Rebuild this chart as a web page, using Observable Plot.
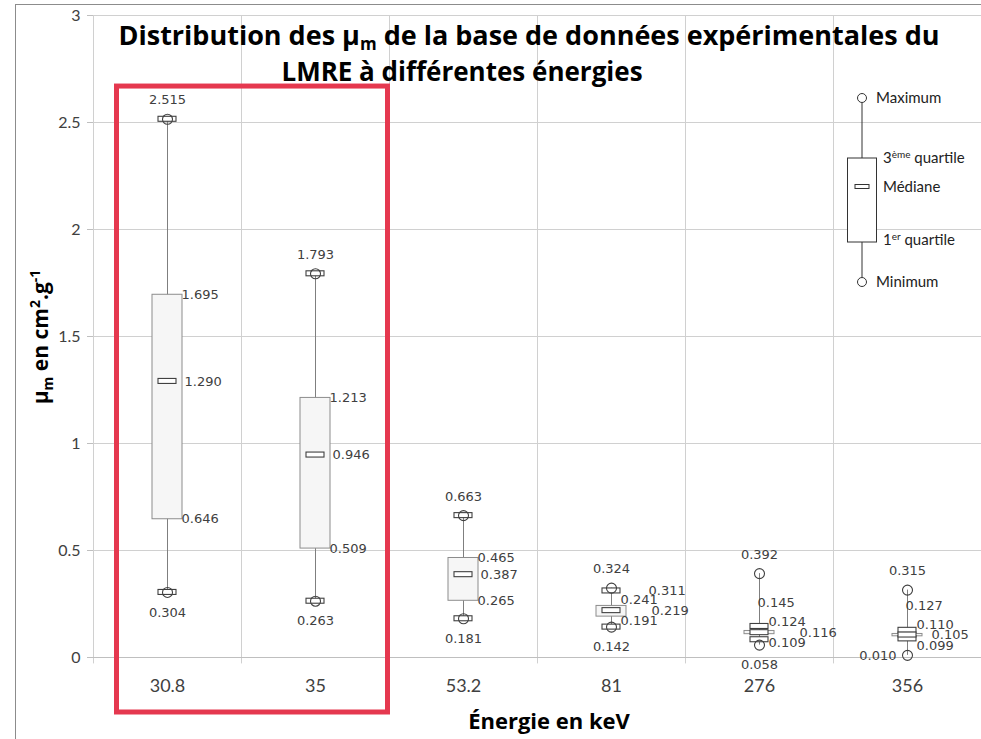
<!DOCTYPE html>
<html lang="fr">
<head>
<meta charset="utf-8">
<script src="https://cdn.jsdelivr.net/npm/d3@7"></script>
<script src="https://cdn.jsdelivr.net/npm/@observablehq/plot@0.6"></script>
<style>
  html, body { margin: 0; padding: 0; background: #fff; overflow: hidden; }
  #wrap { position: relative; width: 981px; height: 739px; overflow: hidden; }
  #frame { position: absolute; left: 15px; top: 4px; width: 1000px; height: 800px;
           border: 1px solid #8c8c8c; pointer-events: none; }
  #wrap svg { position: absolute; left: 0; top: 0; }
</style>
</head>
<body>
<div id="wrap"><div id="frame"></div></div>
<script>
// Mass attenuation coefficients (cm².g⁻¹) measured at each energy (keV)
const energies      = ["30.8", "35", "53.2", "81", "276", "356"];
const minimum       = [0.304, 0.263, 0.181, 0.142, 0.058, 0.010];
const lowerWhisker  = [0.304, 0.263, 0.181, 0.142, 0.083, 0.087];
const firstQuartile = [0.646, 0.509, 0.265, 0.191, 0.109, 0.099];
const medianValue   = [1.290, 0.946, 0.387, 0.219, 0.116, 0.105];
const thirdQuartile = [1.695, 1.213, 0.465, 0.241, 0.124, 0.110];
const upperWhisker  = [2.515, 1.793, 0.663, 0.311, 0.145, 0.127];
const maximum       = [2.515, 1.793, 0.663, 0.324, 0.392, 0.315];
const yTicks        = [0, 0.5, 1, 1.5, 2, 2.5, 3];
const highlighted   = ["30.8", "35"];

const rows = energies.map((e, i) => ({
  energie: e, min: minimum[i], lw: lowerWhisker[i], q1: firstQuartile[i],
  med: medianValue[i], q3: thirdQuartile[i], uw: upperWhisker[i], max: maximum[i]
}));

// Layout
const W = 981, H = 739, mL = 93, mR = 0, mT = 15, mB = 82;
const band = (W - mL - mR) / energies.length;
const boxW = 30, capW = 18, capH = 5;
const grid = "#d0d0d0", ink = "#404040";
const fmt = d3.format(".3f");
const bold = "'Open Sans', sans-serif";

// Value labels: max above, min below, quartiles/median to the right (spread when crowded)
const yS = Plot.scale({y: {domain: [0, 3], range: [H - mB, mT]}});
const labels = [];
rows.forEach((r, i) => {
  const cx = mL + (i + 0.5) * band;
  labels.push({energie: r.energie, y: r.max, text: fmt(r.max), anchor: "middle", dx: 0, dy: -19});
  const below = yS.apply(r.min) + 20;
  if (below > H - mB + 12) labels.push({energie: r.energie, y: r.min, text: fmt(r.min), anchor: "end", dx: -11, dy: 0});
  else labels.push({energie: r.energie, y: r.min, text: fmt(r.min), anchor: "middle", dx: 0, dy: 20});
  const crowded = yS.apply(r.q1) - yS.apply(r.q3) < 25;
  const pMed = yS.apply(r.med);
  const pQ3 = Math.min(yS.apply(r.q3), pMed - 10.5);
  const pQ1 = Math.max(yS.apply(r.q1), pMed + 10.5);
  const medDx = crowded ? Math.min(40, Math.round(W - 50 - cx)) : 17;
  labels.push({energie: r.energie, y: yS.invert(pQ3), text: fmt(r.q3), anchor: "start", dx: crowded ? 9 : 14, dy: 0});
  labels.push({energie: r.energie, y: r.med, text: fmt(r.med), anchor: "start", dx: medDx, dy: 0});
  labels.push({energie: r.energie, y: yS.invert(pQ1), text: fmt(r.q1), anchor: "start", dx: crowded ? 9 : 14, dy: 0});
  if (r.uw !== r.max) {
    const pUw = yS.apply(r.uw);
    if (pUw < yS.apply(r.q3) - 12) labels.push({energie: r.energie, y: r.uw, text: fmt(r.uw), anchor: "start", dx: 37, dy: 0});
    else labels.push({energie: r.energie, y: yS.invert(pQ3 - 19), text: fmt(r.uw), anchor: "start", dx: -2, dy: 0});
  }
});
const labelMarks = d3.groups(labels, d => `${d.anchor}|${d.dx}|${d.dy}`).map(([, g]) =>
  Plot.text(g, {x: "energie", y: "y", text: "text", textAnchor: g[0].anchor, dx: g[0].dx, dy: g[0].dy,
    fontFamily: "DejaVu Sans", fontSize: 13, fill: ink})
);

const capMark = key => Plot.barY(rows, {
  x: "energie", y1: key, y2: key,
  insetLeft: (band - capW) / 2, insetRight: (band - capW) / 2,
  insetTop: -capH / 2, insetBottom: -capH / 2,
  fill: "white", stroke: ink, strokeWidth: 1.1
});

const chart = Plot.plot({
  width: W, height: H,
  marginLeft: mL, marginRight: mR, marginTop: mT, marginBottom: mB,
  style: {fontFamily: "Lato, sans-serif", background: "transparent", overflow: "visible"},
  x: {domain: energies, padding: 0},
  y: {domain: [0, 3]},
  marks: [
    Plot.ruleY(yTicks.filter(t => t > 0), {stroke: grid}),
    Plot.ruleX(energies, {x: d => d, dx: -band / 2, y1: -0.03, y2: 3, stroke: grid}),
    Plot.ruleY([0], {stroke: "#bfbfbf"}),
    Plot.axisY(yTicks, {tickSize: 6, tickPadding: 7, stroke: "#bfbfbf", fill: ink,
      fontSize: 16, tickFormat: d => String(d), label: null}),
    Plot.axisX({tickSize: 0, tickPadding: 22, fill: ink, fontSize: 18, label: null}),
    // whiskers span the full range
    Plot.ruleX(rows, {x: "energie", y1: "min", y2: "max", stroke: "#7f7f7f"}),
    // interquartile box
    Plot.barY(rows, {x: "energie", y1: "q1", y2: "q3",
      insetLeft: (band - boxW) / 2, insetRight: (band - boxW) / 2,
      fill: "#f6f6f6", stroke: "#8c8c8c"}),
    capMark("uw"),
    capMark("lw"),
    capMark("med"),
    Plot.dot(rows, {x: "energie", y: "max", r: 5, stroke: ink, fill: "none", strokeWidth: 1.1}),
    Plot.dot(rows, {x: "energie", y: "min", r: 5, stroke: ink, fill: "none", strokeWidth: 1.1}),
    ...labelMarks
  ]
});

document.getElementById("wrap").appendChild(chart);

// Annotations drawn on top of the chart
const svg = d3.select(chart);
const ys = chart.scale("y");

// highlight around the low-energy group
{
  const start = mL + energies.indexOf(highlighted[0]) * band;
  const end = mL + (energies.indexOf(highlighted[highlighted.length - 1]) + 1) * band;
  svg.append("rect")
    .attr("x", start + 23.5).attr("y", ys.apply(2.668))
    .attr("width", end - start - 25).attr("height", ys.apply(-0.257) - ys.apply(2.668))
    .attr("fill", "none").attr("stroke", "#e5384f").attr("stroke-width", 5);
}

// Title
const title = svg.append("g").attr("font-family", bold).attr("font-weight", 700)
  .attr("font-size", 27).attr("fill", "#000").attr("text-anchor", "middle");
const t1 = title.append("text").attr("x", 529).attr("y", 45);
t1.append("tspan").text("Distribution des μ");
t1.append("tspan").attr("font-size", 17).attr("dy", 5).text("m");
t1.append("tspan").attr("dy", -5).text(" de la base de données expérimentales du");
title.append("text").attr("x", 462).attr("y", 81).attr("font-size", 26).text("LMRE à différentes énergies");

// Axis titles
const yl = svg.append("text").attr("transform", "translate(48,337) rotate(-90)")
  .attr("text-anchor", "middle").attr("font-family", bold)
  .attr("font-weight", 700).attr("font-size", 21).attr("fill", "#000");
yl.append("tspan").text("μ");
yl.append("tspan").attr("font-size", 14).attr("dy", 5).text("m");
yl.append("tspan").attr("dy", -5).text(" en cm");
yl.append("tspan").attr("font-size", 14).attr("dy", -8).text("2");
yl.append("tspan").attr("dy", 8).text(".g");
yl.append("tspan").attr("font-size", 14).attr("dy", -8).text("-1");

svg.append("text").attr("x", 549).attr("y", 729).attr("text-anchor", "middle")
  .attr("font-family", bold).attr("font-weight", 700).attr("font-size", 22)
  .attr("fill", "#000").text("Énergie en keV");

// Key explaining the box glyph
{
  const k = svg.append("g").attr("font-family", "Lato, sans-serif").attr("font-size", 15)
    .attr("fill", "#222").attr("text-anchor", "start");
  const cx = 862;
  k.append("line").attr("x1", cx).attr("x2", cx).attr("y1", 103).attr("y2", 277).attr("stroke", "#333");
  k.append("rect").attr("x", cx - 14.5).attr("y", 158).attr("width", 29).attr("height", 84)
    .attr("fill", "#fff").attr("stroke", "#333");
  k.append("rect").attr("x", cx - 7).attr("y", 184.5).attr("width", 14).attr("height", 4)
    .attr("fill", "#fff").attr("stroke", "#333");
  k.append("circle").attr("cx", cx).attr("cy", 98).attr("r", 4.5).attr("fill", "#fff").attr("stroke", "#333");
  k.append("circle").attr("cx", cx).attr("cy", 282).attr("r", 4.5).attr("fill", "#fff").attr("stroke", "#333");
  const item = (x, y) => k.append("text").attr("x", x).attr("y", y).attr("dy", "0.35em");
  item(876, 98).text("Maximum");
  const q3 = item(883, 158);
  q3.append("tspan").text("3");
  q3.append("tspan").attr("font-size", 10).attr("dy", -5).text("ème");
  q3.append("tspan").attr("dy", 5).text(" quartile");
  item(883, 187).text("Médiane");
  const q1 = item(883, 240);
  q1.append("tspan").text("1");
  q1.append("tspan").attr("font-size", 10).attr("dy", -5).text("er");
  q1.append("tspan").attr("dy", 5).text(" quartile");
  item(876, 282).text("Minimum");
}
</script>
</body>
</html>
